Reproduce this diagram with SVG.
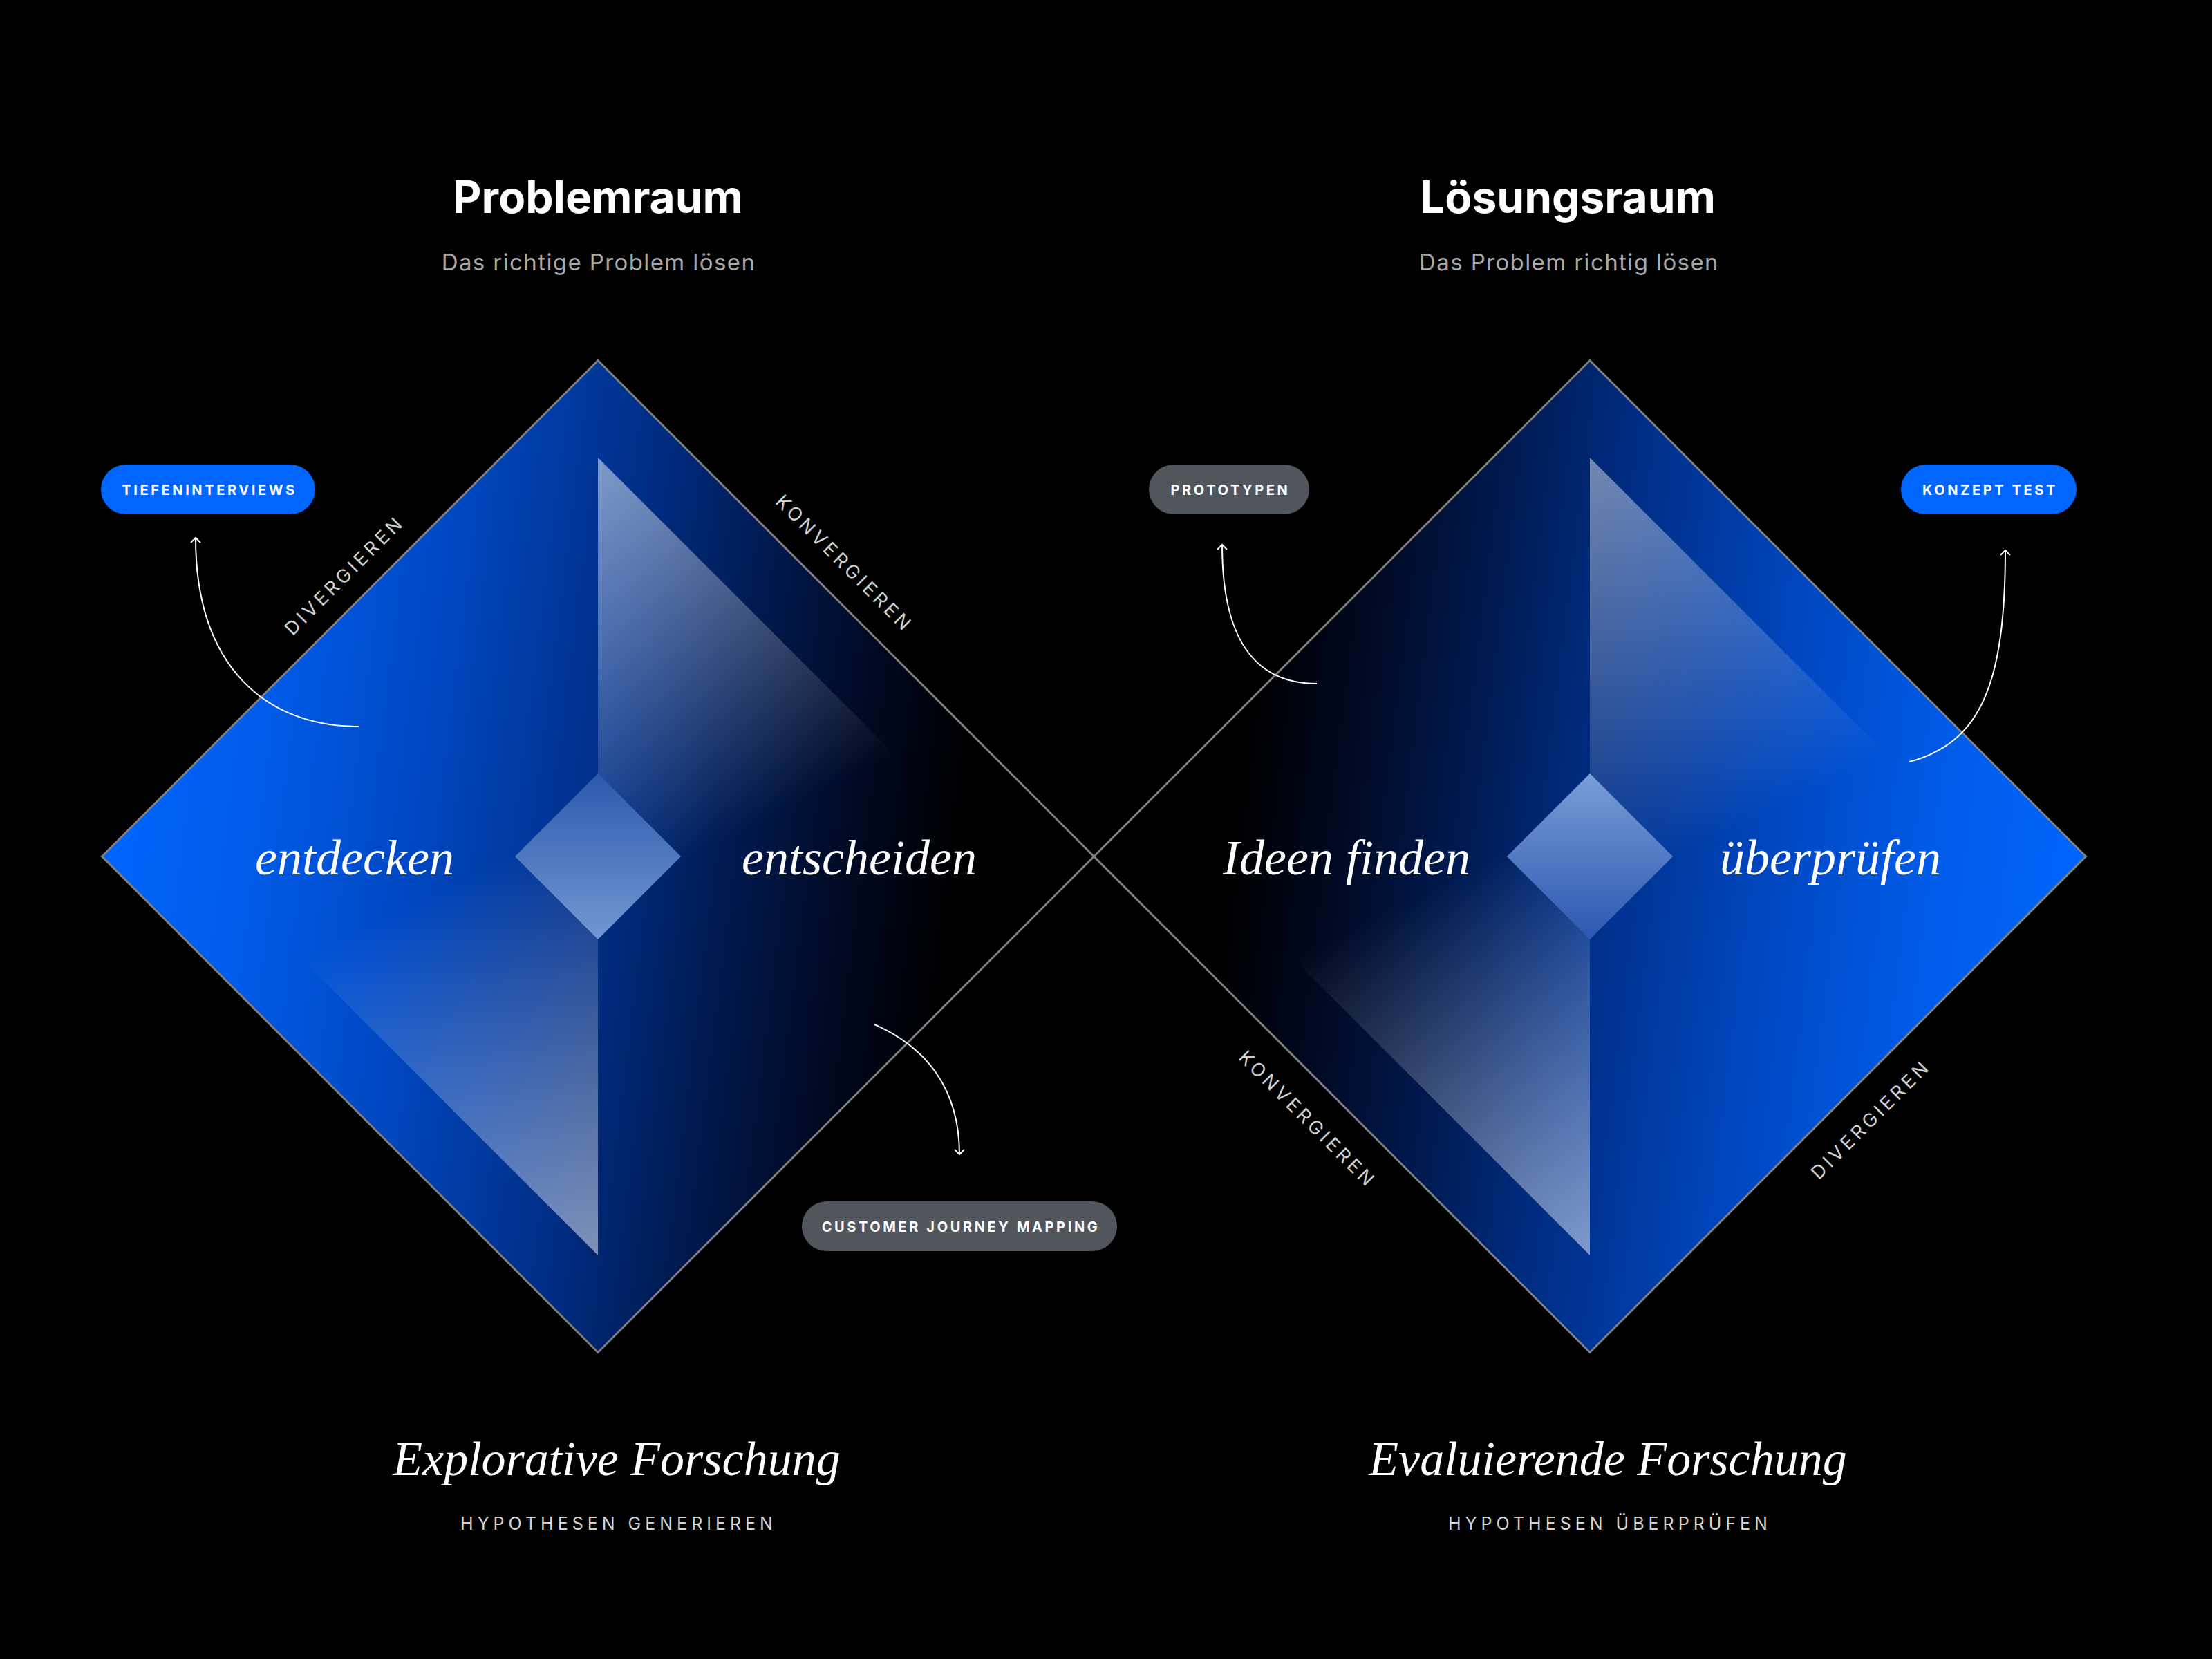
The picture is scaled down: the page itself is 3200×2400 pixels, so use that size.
<svg xmlns="http://www.w3.org/2000/svg" width="3200" height="2400" viewBox="0 0 3200 2400">
<defs>
<style>
.title{font-family:Inter,"Liberation Sans",sans-serif;font-weight:700;font-size:64px;fill:#ffffff;text-anchor:middle}
.sub{font-family:Inter,"Liberation Sans",sans-serif;font-size:33px;letter-spacing:1.4px;fill:#a8a8a8;text-anchor:middle}
.phase{font-family:"Liberation Serif","DejaVu Serif",serif;font-style:italic;font-size:72px;fill:#ffffff;text-anchor:middle}
.foot{font-family:"Liberation Serif","DejaVu Serif",serif;font-style:italic;font-size:70px;fill:#ffffff;text-anchor:middle}
.caps{font-family:Inter,"Liberation Sans",sans-serif;font-size:25px;letter-spacing:6px;fill:#d4d4d4;text-anchor:middle}
.edge{font-family:Inter,"Liberation Sans",sans-serif;font-size:27px;letter-spacing:5px;fill:#d0d0d0;text-anchor:middle}
.pilltxt{font-family:Inter,"Liberation Sans",sans-serif;font-weight:700;font-size:20px;letter-spacing:3.6px;fill:#ffffff;text-anchor:middle}
.outline{fill:none;stroke:#7f7f7f;stroke-width:3;stroke-linejoin:miter}
.conn{fill:none;stroke:#ffffff;stroke-width:2}
.blue{fill:#0066ff}
.gray{fill:#50565c}
</style>
<linearGradient id="bgL" gradientUnits="userSpaceOnUse" x1="147" y1="1150" x2="1583" y2="1330">
<stop offset="0" stop-color="#0066ff"/>
<stop offset="0.15" stop-color="#005cea"/>
<stop offset="0.32" stop-color="#0047c0"/>
<stop offset="0.5" stop-color="#002e86"/>
<stop offset="0.63" stop-color="#001a50"/>
<stop offset="0.76" stop-color="#00081f"/>
<stop offset="0.86" stop-color="#000000"/>
</linearGradient>
<linearGradient id="bgR" gradientUnits="userSpaceOnUse" x1="3018" y1="1328" x2="1582" y2="1150">
<stop offset="0" stop-color="#0066ff"/>
<stop offset="0.15" stop-color="#005cea"/>
<stop offset="0.32" stop-color="#0047c0"/>
<stop offset="0.5" stop-color="#002e86"/>
<stop offset="0.63" stop-color="#001a50"/>
<stop offset="0.76" stop-color="#00081f"/>
<stop offset="0.86" stop-color="#000000"/>
</linearGradient>
<linearGradient id="triLu" gradientUnits="userSpaceOnUse" x1="865" y1="662" x2="1120" y2="1180">
<stop offset="0" stop-color="#ffffff" stop-opacity="0.5"/>
<stop offset="1" stop-color="#ffffff" stop-opacity="0"/>
</linearGradient>
<linearGradient id="triLd" gradientUnits="userSpaceOnUse" x1="865" y1="1816" x2="610" y2="1298">
<stop offset="0" stop-color="#ffffff" stop-opacity="0.5"/>
<stop offset="1" stop-color="#ffffff" stop-opacity="0"/>
</linearGradient>
<linearGradient id="triRu" gradientUnits="userSpaceOnUse" x1="2300" y1="662" x2="2555" y2="1180">
<stop offset="0" stop-color="#ffffff" stop-opacity="0.45"/>
<stop offset="1" stop-color="#ffffff" stop-opacity="0"/>
</linearGradient>
<linearGradient id="triRd" gradientUnits="userSpaceOnUse" x1="2300" y1="1816" x2="2045" y2="1298">
<stop offset="0" stop-color="#ffffff" stop-opacity="0.5"/>
<stop offset="1" stop-color="#ffffff" stop-opacity="0"/>
</linearGradient>
<linearGradient id="smallL" x1="0" y1="0" x2="0" y2="1">
<stop offset="0" stop-color="#2b5aab"/>
<stop offset="1" stop-color="#7397d3"/>
</linearGradient>
<linearGradient id="smallR" x1="0" y1="0" x2="0" y2="1">
<stop offset="0" stop-color="#7a9ed8"/>
<stop offset="1" stop-color="#2b57b0"/>
</linearGradient>
<marker id="arrow" markerUnits="userSpaceOnUse" viewBox="-10 -10 12 20" refX="0" refY="0" markerWidth="12" markerHeight="20" orient="auto" overflow="visible">
<path d="M-7,-7 L0,0 L-7,7" fill="none" stroke="#ffffff" stroke-width="2"/>
</marker>
</defs>

<rect x="0" y="0" width="3200" height="2400" fill="#000000"/>

<g id="header-problemraum">
<text class="title" x="865" y="308">Problemraum</text>
<text class="sub" x="866" y="391">Das richtige Problem lösen</text>
</g>
<g id="header-loesungsraum">
<text class="title" x="2268" y="308">Lösungsraum</text>
<text class="sub" x="2270" y="391">Das Problem richtig lösen</text>
</g>

<g id="diamond-problemraum">
<polygon points="865,521.5 1582.5,1239 865,1956.5 147.5,1239" fill="url(#bgL)"/>
<polygon points="865,662 1442,1239 865,1239" fill="url(#triLu)"/>
<polygon points="865,1816 288,1239 865,1239" fill="url(#triLd)"/>
<polygon points="865,1119 985,1239 865,1359 745,1239" fill="url(#smallL)"/>
<polygon class="outline" points="865,521.5 1582.5,1239 865,1956.5 147.5,1239"/>
<text class="phase" x="513" y="1265">entdecken</text>
<text class="phase" x="1243" y="1265">entscheiden</text>
<text class="edge" transform="translate(505,839) rotate(-45)" x="0" y="0">DIVERGIEREN</text>
<text class="edge" transform="translate(1215,822) rotate(45)" x="0" y="0">KONVERGIEREN</text>
</g>

<g id="diamond-loesungsraum">
<polygon points="2300,521.5 3017.5,1239 2300,1956.5 1582.5,1239" fill="url(#bgR)"/>
<polygon points="2300,662 2877,1239 2300,1239" fill="url(#triRu)"/>
<polygon points="2300,1816 1723,1239 2300,1239" fill="url(#triRd)"/>
<polygon points="2300,1119 2420,1239 2300,1359 2180,1239" fill="url(#smallR)"/>
<polygon class="outline" points="2300,521.5 3017.5,1239 2300,1956.5 1582.5,1239"/>
<text class="phase" x="1948" y="1265">Ideen finden</text>
<text class="phase" x="2648" y="1265">überprüfen</text>
<text class="edge" transform="translate(1885,1626) rotate(45)" x="0" y="0">KONVERGIEREN</text>
<text class="edge" transform="translate(2713,1626) rotate(-45)" x="0" y="0">DIVERGIEREN</text>
</g>

<g id="connectors">
<path class="conn" d="M519,1051 C385,1051 283,965 283,778" marker-end="url(#arrow)"/>
<path class="conn" d="M1265,1482 C1340,1515 1388,1575 1388,1670" marker-end="url(#arrow)"/>
<path class="conn" d="M1905,989 C1815,989 1768,925 1768,788" marker-end="url(#arrow)"/>
<path class="conn" d="M2762,1102 C2865,1075 2901,990 2901,796" marker-end="url(#arrow)"/>
</g>

<g id="pill-tiefeninterviews">
<rect class="blue" x="146" y="672" width="310" height="72" rx="36"/>
<text class="pilltxt" x="303" y="716">TIEFENINTERVIEWS</text>
</g>
<g id="pill-customer-journey-mapping">
<rect class="gray" x="1160" y="1738" width="456" height="72" rx="36"/>
<text class="pilltxt" x="1390" y="1782">CUSTOMER JOURNEY MAPPING</text>
</g>
<g id="pill-prototypen">
<rect class="gray" x="1662" y="672" width="232" height="72" rx="36"/>
<text class="pilltxt" x="1780" y="716">PROTOTYPEN</text>
</g>
<g id="pill-konzept-test">
<rect class="blue" x="2750" y="672" width="254" height="72" rx="36"/>
<text class="pilltxt" x="2879" y="716">KONZEPT TEST</text>
</g>

<g id="footer-explorativ">
<text class="foot" x="892" y="2134">Explorative Forschung</text>
<text class="caps" x="895" y="2213">HYPOTHESEN GENERIEREN</text>
</g>
<g id="footer-evaluierend">
<text class="foot" x="2326" y="2134">Evaluierende Forschung</text>
<text class="caps" x="2329" y="2213">HYPOTHESEN ÜBERPRÜFEN</text>
</g>
</svg>
